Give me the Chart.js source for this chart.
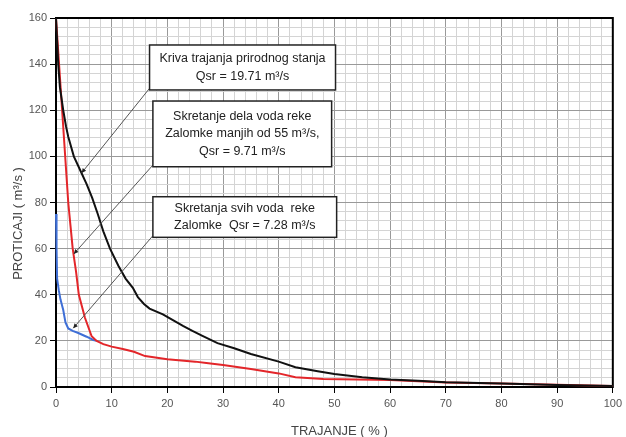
<!DOCTYPE html>
<html>
<head>
<meta charset="utf-8">
<script src="https://cdn.jsdelivr.net/npm/chart.js@4"></script>
<style>
  html, body { margin: 0; padding: 0; background: #fff; }
  #wrap { width: 626px; height: 437px; }
</style>
</head>
<body>
<div id="wrap"><canvas id="flowChart" width="626" height="437"></canvas></div>
<script>
// natural state duration curve
const naturalX = [0, 0.2, 0.4, 0.7, 1.3, 1.8, 2.2, 3.2, 4.6, 5.5, 6.5, 7.5, 8.5, 9.7, 11.2, 12.5, 13.8, 14.7, 15.8, 16.8, 19.2, 21, 22.8, 24.5, 26.3, 29, 32, 35, 40, 43, 47, 50, 55, 60, 65, 70, 80, 90, 100];
const naturalY = [160, 150, 140, 130, 120, 113, 108.5, 100, 92.7, 88, 82, 75, 67.5, 60, 52.6, 47, 43, 39, 36, 34, 31.5, 29, 26.5, 24.3, 22.2, 19, 16.8, 14.3, 11, 8.6, 6.8, 5.6, 4.2, 3.3, 2.7, 2.1, 1.5, 0.9, 0.4];

// partial diversion (under 55 m3/s)
const partialX = [0, 2.2, 2.6, 3.0, 3.6, 4.1, 5.2, 6.4, 7.3, 8.5, 10, 12, 14, 16, 20, 25, 27, 30, 35, 40, 43, 48, 60, 70, 80, 90, 100];
const partialY = [160, 80, 70, 60, 50, 40, 30, 22, 20, 18.6, 17.5, 16.5, 15.3, 13.4, 12, 11, 10.4, 9.5, 7.8, 5.9, 4.2, 3.5, 3, 2, 1.5, 1.0, 0.4];

// full diversion
const fullX = [0, 0.1, 0.2, 0.5, 0.8, 1.3, 1.7, 2.2, 3, 4, 5.5, 6.7, 7.3];
const fullY = [75, 60, 47, 42, 38, 33.4, 28, 25.4, 24.3, 23.4, 21.8, 20.4, 20];

const yTitle = 'PROTICAJI ( m³/s )';
const xTitle = 'TRAJANJE ( % )';

const notes = [
  { lines: ['Kriva trajanja prirodnog stanja', 'Qsr = 19.71 m³/s'], box: [16.8, 148.3, 50.2, 128.8], from: [16.8, 129.5], to: [4.6, 92.8] },
  { lines: ['Skretanje dela voda reke', 'Zalomke manjih od 55 m³/s,', 'Qsr = 9.71 m³/s'], box: [17.4, 124, 49.5, 95.5], from: [17.4, 96.2], to: [3.2, 57.7] },
  { lines: ['Skretanja svih voda  reke', 'Zalomke  Qsr = 7.28 m³/s'], box: [17.4, 82.5, 50.4, 64.9], from: [17.4, 65.6], to: [3.1, 25.5] }
];

const zip = (xs, ys) => xs.map((x, i) => ({ x: x, y: ys[i] }));
const FONT = '"Liberation Sans", Arial, sans-serif';

const frameAndNotes = {
  id: 'frameAndNotes',
  beforeDatasetsDraw(chart) {
    const ctx = chart.ctx;
    const a = chart.chartArea;
    ctx.save();
    ctx.strokeStyle = '#000';
    ctx.lineWidth = 2;
    ctx.strokeRect(a.left, a.top, a.right - a.left, a.bottom - a.top);
    ctx.restore();
  },
  afterDatasetsDraw(chart) {
    const ctx = chart.ctx;
    const xs = chart.scales.x, ys = chart.scales.y;
    const a = chart.chartArea;
    ctx.save();
    notes.forEach(n => {
      const fx = xs.getPixelForValue(n.from[0]), fy = ys.getPixelForValue(n.from[1]);
      const tx = xs.getPixelForValue(n.to[0]), ty = ys.getPixelForValue(n.to[1]);
      ctx.strokeStyle = '#555';
      ctx.lineWidth = 1;
      ctx.beginPath();
      ctx.moveTo(fx, fy);
      ctx.lineTo(tx, ty);
      ctx.stroke();
      // arrow head
      const ang = Math.atan2(ty - fy, tx - fx);
      ctx.fillStyle = '#222';
      ctx.beginPath();
      ctx.moveTo(tx, ty);
      ctx.lineTo(tx - 5 * Math.cos(ang - 0.45), ty - 5 * Math.sin(ang - 0.45));
      ctx.lineTo(tx - 5 * Math.cos(ang + 0.45), ty - 5 * Math.sin(ang + 0.45));
      ctx.closePath();
      ctx.fill();

      const x1 = xs.getPixelForValue(n.box[0]), y1 = ys.getPixelForValue(n.box[1]);
      const x2 = xs.getPixelForValue(n.box[2]), y2 = ys.getPixelForValue(n.box[3]);
      ctx.fillStyle = '#fff';
      ctx.fillRect(x1, y1, x2 - x1, y2 - y1);
      ctx.strokeStyle = '#222';
      ctx.lineWidth = 1.5;
      ctx.strokeRect(x1, y1, x2 - x1, y2 - y1);

      ctx.fillStyle = '#222';
      ctx.font = '12.5px ' + FONT;
      ctx.textAlign = 'center';
      ctx.textBaseline = 'middle';
      const lh = 17.5;
      const cy = (y1 + y2) / 2 - (n.lines.length - 1) * lh / 2;
      n.lines.forEach((t, i) => ctx.fillText(t, (x1 + x2) / 2, cy + i * lh));
    });

    // axis titles
    ctx.fillStyle = '#444';
    ctx.font = '13px ' + FONT;
    ctx.textAlign = 'center';
    ctx.textBaseline = 'middle';
    ctx.fillText(xTitle, (a.left + a.right) / 2 + 5, 431);
    ctx.translate(18, (a.top + a.bottom) / 2 + 21);
    ctx.rotate(-Math.PI / 2);
    ctx.fillText(yTitle, 0, 0);
    ctx.restore();
  }
};

new Chart(document.getElementById('flowChart'), {
  type: 'scatter',
  data: {
    datasets: [
      { label: 'Prirodno stanje', data: zip(naturalX, naturalY), borderColor: '#111', borderWidth: 2 },
      { label: 'Skretanje dela voda', data: zip(partialX, partialY), borderColor: '#e3262a', borderWidth: 2 },
      { label: 'Skretanje svih voda', data: zip(fullX, fullY), borderColor: '#3f6fd6', borderWidth: 2 }
    ].map(d => Object.assign(d, { showLine: true, pointRadius: 0, tension: 0, fill: false, clip: 2 }))
  },
  options: {
    responsive: false,
    animation: false,
    layout: { padding: { left: 0, right: 11, top: 18, bottom: 0 } },
    plugins: { legend: { display: false }, tooltip: { enabled: false } },
    scales: {
      x: {
        type: 'linear', min: 0, max: 100,
        afterFit: s => { s.height = 50; },
        ticks: {
          stepSize: 2, autoSkip: false, maxRotation: 0, padding: 4,
          color: '#555', font: { family: FONT, size: 11 },
          callback: v => (v % 10 === 0 ? v : '')
        },
        grid: {
          color: c => (c.tick && c.tick.value % 10 === 0 ? '#999' : '#d4d4d4'),
          tickColor: c => (c.tick && c.tick.value % 10 === 0 ? '#000' : 'rgba(0,0,0,0)'),
          tickLength: 6, lineWidth: 1
        },
        border: { display: true, color: '#000', width: 2 }
      },
      y: {
        min: 0, max: 160,
        afterFit: s => { s.width = 56; },
        ticks: {
          stepSize: 4, autoSkip: false, padding: 3,
          color: '#555', font: { family: FONT, size: 11 },
          callback: v => (v % 20 === 0 ? v : '')
        },
        grid: {
          color: c => (c.tick && c.tick.value % 20 === 0 ? '#999' : '#d4d4d4'),
          tickColor: c => (c.tick && c.tick.value % 20 === 0 ? '#000' : 'rgba(0,0,0,0)'),
          tickLength: 6, lineWidth: 1
        },
        border: { display: true, color: '#000', width: 2 }
      }
    }
  },
  plugins: [frameAndNotes]
});
</script>
</body>
</html>
